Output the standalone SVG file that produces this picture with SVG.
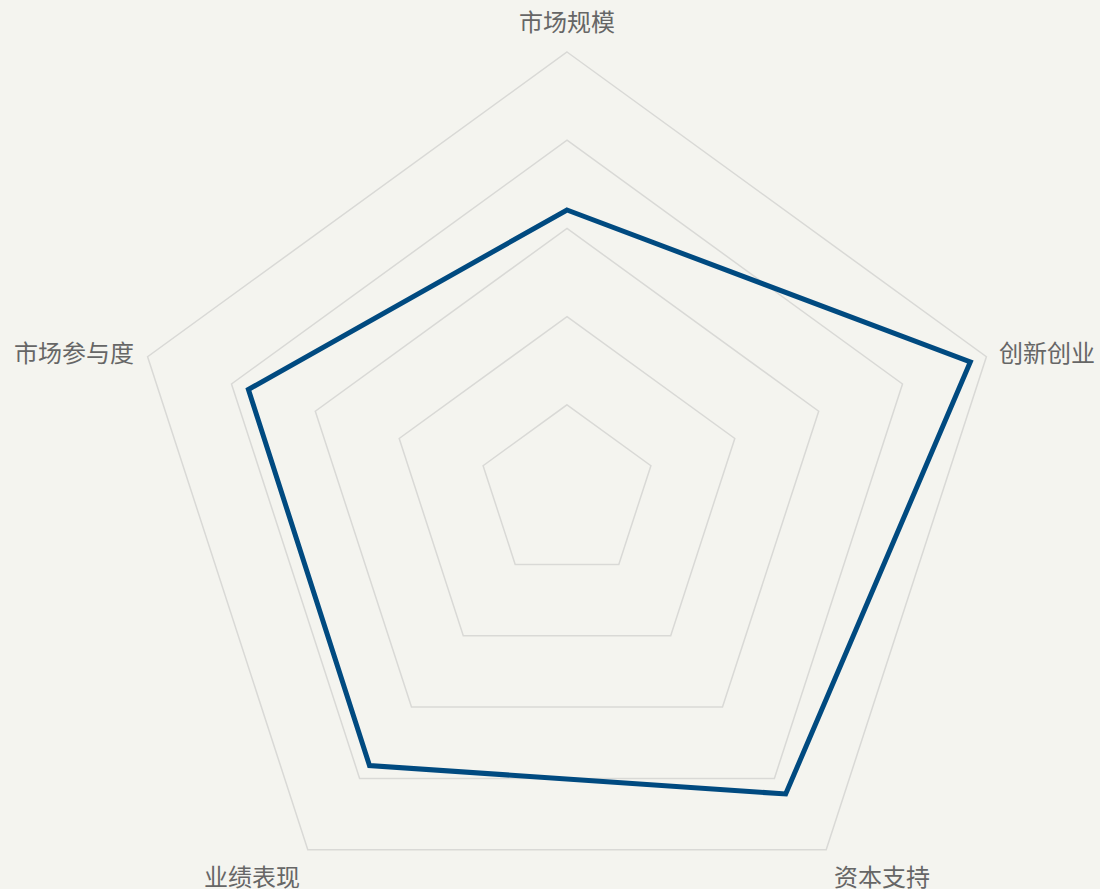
<svg xmlns="http://www.w3.org/2000/svg" width="1100" height="889" viewBox="0 0 1100 889">
<style>
.grid{fill:none;stroke:#d9d9d6;stroke-width:1.5}
.data{fill:none;stroke:#004a80;stroke-width:5;stroke-linejoin:miter}
.lbl{font-family:"Noto Sans CJK SC","Noto Sans",sans-serif;font-size:24px;fill:#666666}
</style>
<rect width="1100" height="889" fill="#f4f4ef"/>
<g id="grid">
<polygon class="grid" points="567,52 986.4,356.7 826.2,849.8 307.8,849.8 147.6,356.7"/>
<polygon class="grid" points="567,140.2 902.5,384 774.4,778.4 359.6,778.4 231.5,384"/>
<polygon class="grid" points="567,228.4 818.7,411.2 722.5,707.1 411.5,707.1 315.3,411.2"/>
<polygon class="grid" points="567,316.6 734.8,438.5 670.7,635.7 463.3,635.7 399.2,438.5"/>
<polygon class="grid" points="567,404.8 650.9,465.7 618.8,564.4 515.2,564.4 483.1,465.7"/>
</g>
<g id="series">
<polygon class="data" points="567,210 970.3,362 785.7,794 369.5,765.5 248.4,389.5"/>
</g>
<g id="labels">
<text id="label-market-size" class="lbl" x="567" y="30.5" text-anchor="middle">市场规模</text>
<text id="label-innovation" class="lbl" x="999" y="361.5">创新创业</text>
<text id="label-capital" class="lbl" x="834" y="886">资本支持</text>
<text id="label-performance" class="lbl" x="300" y="886" text-anchor="end">业绩表现</text>
<text id="label-participation" class="lbl" x="134" y="361.5" text-anchor="end">市场参与度</text>
</g>
</svg>
